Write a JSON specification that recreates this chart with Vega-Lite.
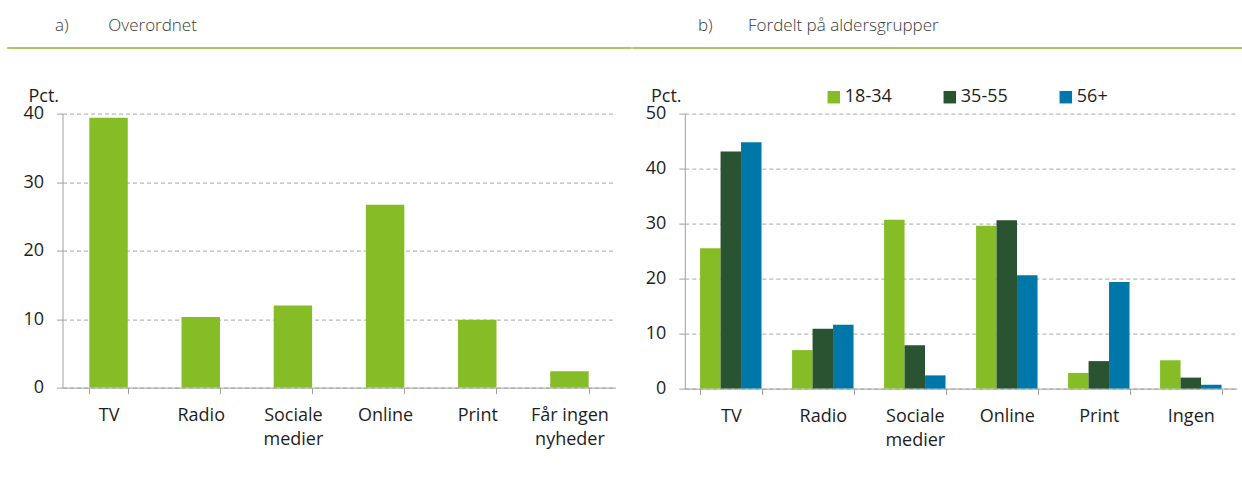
{
  "$schema": "https://vega.github.io/schema/vega-lite/v6.json",
  "padding": {"left": 7, "top": 16, "right": 0, "bottom": 0},
  "background": "white",
  "columns": 1,
  "spacing": 38.6,
  "config": {
    "font": "Open Sans",
    "view": {"stroke": null},
    "axisX": {
      "domainColor": "#a0a0a0", "tickColor": "#a0a0a0", "tickSize": 6, "tickBand": "extent",
      "labelFontSize": 18, "labelPadding": 13, "labelLineHeight": 24, "labelAngle": 0,
      "labelColor": "#1e1e1e", "grid": false, "labelLimit": 0
    },
    "axisY": {
      "domainColor": "#a0a0a0", "tickColor": "#a0a0a0", "tickSize": 6,
      "gridColor": "#a6a6a6", "gridDash": [4, 3],
      "labelFontSize": 18, "labelColor": "#1e1e1e", "labelPadding": 13,
      "titleFontSize": 18, "titleFontWeight": "normal", "titleColor": "#1e1e1e",
      "titleAngle": 0, "titleAlign": "left", "titleBaseline": "middle"
    }
  },
  "resolve": {"scale": {"color": "independent"}, "legend": {"color": "independent"}},
  "concat": [
    {
      "spacing": 0,
      "hconcat": [
        {
          "width": 623, "height": 0.01,
          "title": {"text": "a)\u00a0\u00a0\u00a0\u00a0\u00a0\u00a0\u00a0\u00a0\u00a0Overordnet", "anchor": "start", "dx": 47, "offset": 0, "baseline": "alphabetic", "fontSize": 17, "fontWeight": 300, "color": "#3a3a3a", "font": "Open Sans"},
          "view": {"stroke": "#86bc25", "strokeWidth": 1.5},
          "data": {"values": []},
          "mark": {"type": "text"},
          "encoding": {"text": {"value": ""}}
        },
        {
          "width": 611.5, "height": 0.01,
          "title": {"text": "b)\u00a0\u00a0\u00a0\u00a0\u00a0\u00a0\u00a0\u00a0Fordelt på aldersgrupper", "anchor": "start", "dx": 65, "offset": 0, "baseline": "alphabetic", "fontSize": 17, "fontWeight": 300, "color": "#3a3a3a", "font": "Open Sans"},
          "view": {"stroke": "#86bc25", "strokeWidth": 1.5},
          "data": {"values": []},
          "mark": {"type": "text"},
          "encoding": {"text": {"value": ""}}
        }
      ]
    },
    {
      "spacing": 0,
      "resolve": {"scale": {"color": "independent"}, "legend": {"color": "independent"}},
      "hconcat": [
        {
          "width": 623, "height": 274,
          "data": {"values": [
            {"kategori": "TV", "pct": 39.4},
            {"kategori": "Radio", "pct": 10.3},
            {"kategori": "Sociale medier", "pct": 12.0},
            {"kategori": "Online", "pct": 26.7},
            {"kategori": "Print", "pct": 9.9},
            {"kategori": "Får ingen nyheder", "pct": 2.4}
          ]},
          "mark": {"type": "bar", "color": "#86bc25"},
          "encoding": {
            "x": {"field": "kategori", "type": "nominal", "sort": null,
              "scale": {"range": [54.5, 607.5], "paddingInner": 0.583, "paddingOuter": 0.291},
              "axis": {"title": null, "labelExpr": "datum.label == 'Sociale medier' ? ['Sociale', 'medier'] : datum.label == 'Får ingen nyheder' ? ['Får ingen', 'nyheder'] : datum.label"}},
            "y": {"field": "pct", "type": "quantitative",
              "scale": {"domain": [0, 40], "nice": false},
              "axis": {"values": [0, 10, 20, 30, 40], "title": "Pct.", "titleX": -34.5, "titleY": -17, "offset": -54.5}}
          }
        },
        {
          "width": 611.5, "height": 275,
          "data": {"values": [
            {"kategori": "TV", "gruppe": "18-34", "pct": 25.5},
            {"kategori": "TV", "gruppe": "35-55", "pct": 43.1},
            {"kategori": "TV", "gruppe": "56+", "pct": 44.8},
            {"kategori": "Radio", "gruppe": "18-34", "pct": 7.0},
            {"kategori": "Radio", "gruppe": "35-55", "pct": 10.9},
            {"kategori": "Radio", "gruppe": "56+", "pct": 11.6},
            {"kategori": "Sociale medier", "gruppe": "18-34", "pct": 30.7},
            {"kategori": "Sociale medier", "gruppe": "35-55", "pct": 7.9},
            {"kategori": "Sociale medier", "gruppe": "56+", "pct": 2.4},
            {"kategori": "Online", "gruppe": "18-34", "pct": 29.6},
            {"kategori": "Online", "gruppe": "35-55", "pct": 30.6},
            {"kategori": "Online", "gruppe": "56+", "pct": 20.6},
            {"kategori": "Print", "gruppe": "18-34", "pct": 2.85},
            {"kategori": "Print", "gruppe": "35-55", "pct": 5.0},
            {"kategori": "Print", "gruppe": "56+", "pct": 19.4},
            {"kategori": "Ingen", "gruppe": "18-34", "pct": 5.15},
            {"kategori": "Ingen", "gruppe": "35-55", "pct": 2.0},
            {"kategori": "Ingen", "gruppe": "56+", "pct": 0.7}
          ]},
          "mark": {"type": "bar"},
          "encoding": {
            "x": {"field": "kategori", "type": "nominal", "sort": null,
              "scale": {"range": [53.8, 605.8], "paddingInner": 0.332, "paddingOuter": 0.166},
              "axis": {"title": null, "labelExpr": "datum.label == 'Sociale medier' ? ['Sociale', 'medier'] : datum.label"}},
            "xOffset": {"field": "gruppe", "type": "nominal", "sort": null, "scale": {"paddingInner": 0, "paddingOuter": 0}},
            "y": {"field": "pct", "type": "quantitative",
              "scale": {"domain": [0, 50], "nice": false},
              "axis": {"values": [0, 10, 20, 30, 40, 50], "title": "Pct.", "titleX": -34.3, "titleY": -17, "offset": -53.8}},
            "color": {"field": "gruppe", "type": "nominal",
              "scale": {"domain": ["18-34", "35-55", "56+"], "range": ["#86bc25", "#2a5332", "#0077a9"]},
              "legend": {"title": null, "orient": "none", "legendX": 193.8, "legendY": -25.4, "direction": "horizontal",
                "symbolType": "square", "symbolSize": 156, "symbolStrokeWidth": 0, "symbolOpacity": 1,
                "labelFontSize": 18, "labelColor": "#1e1e1e", "labelOffset": 2, "columnPadding": 49}}
          }
        }
      ]
    }
  ]
}
